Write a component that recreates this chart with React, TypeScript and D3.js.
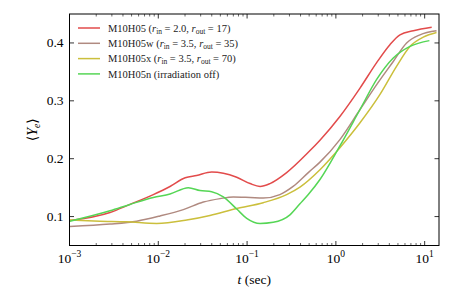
import React from "react";
import * as d3 from "d3";

const WIDTH = 463;
const HEIGHT = 290;
const MARGIN = { top: 14, right: 24, bottom: 44.5, left: 69.5 };
const FONT = "'Liberation Serif', 'DejaVu Serif', serif";

// time (sec) and <Ye> for each run
const tRed = [0.00101, 0.00286, 0.0048, 0.00879, 0.01355, 0.0201, 0.027, 0.0399, 0.054, 0.0764, 0.108, 0.14, 0.181, 0.279, 0.489, 0.662, 1.11, 1.87, 2.88, 4.06, 5.27, 7.45, 12.0];
const yRed = [0.093, 0.107, 0.121, 0.138, 0.152, 0.167, 0.171, 0.177, 0.175, 0.168, 0.157, 0.152, 0.157, 0.176, 0.211, 0.232, 0.273, 0.322, 0.366, 0.397, 0.414, 0.421, 0.427];

const tBrown = [0.00101, 0.00286, 0.00572, 0.01045, 0.01914, 0.0322, 0.0496, 0.07, 0.108, 0.152, 0.234, 0.33, 0.489, 0.662, 1.11, 1.87, 2.88, 4.43, 6.26, 8.85, 13.6];
const yBrown = [0.083, 0.087, 0.092, 0.101, 0.112, 0.125, 0.131, 0.134, 0.133, 0.132, 0.138, 0.152, 0.176, 0.194, 0.233, 0.285, 0.328, 0.368, 0.4, 0.414, 0.421];

const tYellow = [0.00101, 0.0022, 0.0044, 0.0096, 0.0209, 0.0382, 0.0764, 0.152, 0.279, 0.394, 0.662, 1.11, 1.87, 3.14, 4.84, 6.83, 9.64, 13.6];
const yYellow = [0.094, 0.092, 0.091, 0.088, 0.094, 0.102, 0.114, 0.124, 0.138, 0.151, 0.181, 0.219, 0.262, 0.311, 0.36, 0.394, 0.41, 0.418];

const tGreen = [0.00101, 0.00286, 0.0048, 0.00879, 0.01355, 0.0218, 0.0295, 0.0399, 0.054, 0.0764, 0.0991, 0.14, 0.197, 0.304, 0.394, 0.489, 0.662, 1.11, 1.87, 2.88, 4.43, 6.83, 11.3];
const yGreen = [0.092, 0.11, 0.121, 0.133, 0.139, 0.15, 0.145, 0.143, 0.134, 0.113, 0.097, 0.088, 0.09, 0.103, 0.122, 0.138, 0.164, 0.222, 0.285, 0.337, 0.374, 0.394, 0.404];

const yTicks = [0.1, 0.2, 0.3, 0.4];
const xDecades = [-3, -2, -1, 0, 1];

type Series = { name: string; rin?: string; rout?: string; note?: string; color: string; t: number[]; v: number[] };

const SERIES: Series[] = [
  { name: "M10H05", rin: "2.0", rout: "17", color: "#e24b4b", t: tRed, v: yRed },
  { name: "M10H05w", rin: "3.5", rout: "35", color: "#b08a80", t: tBrown, v: yBrown },
  { name: "M10H05x", rin: "3.5", rout: "70", color: "#cbbf3c", t: tYellow, v: yYellow },
  { name: "M10H05n", note: "(irradiation off)", color: "#55d655", t: tGreen, v: yGreen },
];

export default function App() {
  const bw = WIDTH - MARGIN.left - MARGIN.right;
  const bh = HEIGHT - MARGIN.top - MARGIN.bottom;

  const x = d3.scaleLog().domain([1e-3, 14.5]).range([0, bw]);
  const y = d3.scaleLinear().domain([0.05, 0.45]).range([bh, 0]);

  const line = d3
    .line<[number, number]>()
    .x((d) => x(d[0]))
    .y((d) => y(d[1]))
    .curve(d3.curveMonotoneX);

  const minor: number[] = [];
  for (let e = -3; e <= 1; e++) {
    for (let m = 2; m <= 9; m++) {
      const v = m * Math.pow(10, e);
      if (v < 14.5) minor.push(v);
    }
  }

  return (
    <svg width={WIDTH} height={HEIGHT} style={{ position: "absolute", left: 0, top: 0 }} fontFamily={FONT}>
      <rect width={WIDTH} height={HEIGHT} fill="white" />
      <g transform={`translate(${MARGIN.left},${MARGIN.top})`}>
        <defs>
          <clipPath id="plot">
            <rect width={bw} height={bh} />
          </clipPath>
        </defs>
        <g clipPath="url(#plot)">
          {SERIES.map((s) => (
            <path
              key={s.name}
              d={line(s.t.map((t, i) => [t, s.v[i]] as [number, number])) || ""}
              fill="none"
              stroke={s.color}
              strokeWidth={1.5}
            />
          ))}
        </g>

        {/* ticks, all inward */}
        {xDecades.map((e) => {
          const px = x(Math.pow(10, e));
          return (
            <g key={e}>
              <line x1={px} x2={px} y1={bh} y2={bh - 4.5} stroke="black" strokeWidth={0.8} />
              <line x1={px} x2={px} y1={0} y2={4.5} stroke="black" strokeWidth={0.8} />
              <text x={px} y={bh + 17} textAnchor="middle" fontSize={13.5}>
                10
                <tspan fontSize={9.5} dy={-6}>
                  {e < 0 ? `\u2212${-e}` : `${e}`}
                </tspan>
              </text>
            </g>
          );
        })}
        {minor.map((v) => (
          <g key={v}>
            <line x1={x(v)} x2={x(v)} y1={bh} y2={bh - 2.5} stroke="black" strokeWidth={0.6} />
            <line x1={x(v)} x2={x(v)} y1={0} y2={2.5} stroke="black" strokeWidth={0.6} />
          </g>
        ))}
        {yTicks.map((v) => (
          <g key={v}>
            <line x1={0} x2={4.5} y1={y(v)} y2={y(v)} stroke="black" strokeWidth={0.8} />
            <line x1={bw} x2={bw - 4.5} y1={y(v)} y2={y(v)} stroke="black" strokeWidth={0.8} />
            <text x={-6} y={y(v) + 4.5} textAnchor="end" fontSize={13.5}>
              {v.toFixed(1)}
            </text>
          </g>
        ))}

        <rect width={bw} height={bh} fill="none" stroke="black" strokeWidth={1} />

        {/* legend */}
        {SERIES.map((s, i) => {
          const ly = 14 + i * 15.3;
          return (
            <g key={s.name} transform={`translate(8.5,${ly})`}>
              <line x1={0} x2={22} y1={0} y2={0} stroke={s.color} strokeWidth={1.5} />
              <text x={30} y={3.6} fontSize={10.5} fill="#222">
                {s.name}{" "}
                {s.note ? (
                  s.note
                ) : (
                  <>
                    (<tspan fontStyle="italic">r</tspan>
                    <tspan fontSize={7.5} dy={2}>in</tspan>
                    <tspan dy={-2}>{` = ${s.rin}, `}</tspan>
                    <tspan fontStyle="italic">r</tspan>
                    <tspan fontSize={7.5} dy={2}>out</tspan>
                    <tspan dy={-2}>{` = ${s.rout})`}</tspan>
                  </>
                )}
              </text>
            </g>
          );
        })}
      </g>

      {/* axis titles */}
      <text x={MARGIN.left + bw / 2} y={284} textAnchor="middle" fontSize={13.5}>
        <tspan fontStyle="italic">t</tspan> (sec)
      </text>
      <text transform={`translate(37,${MARGIN.top + bh / 2}) rotate(-90)`} textAnchor="middle" fontSize={14}>
        {"\u27E8"}
        <tspan fontStyle="italic">Y</tspan>
        <tspan fontSize={9.5} dy={3} fontStyle="italic">e</tspan>
        <tspan dy={-3}>{"\u27E9"}</tspan>
      </text>
    </svg>
  );
}
